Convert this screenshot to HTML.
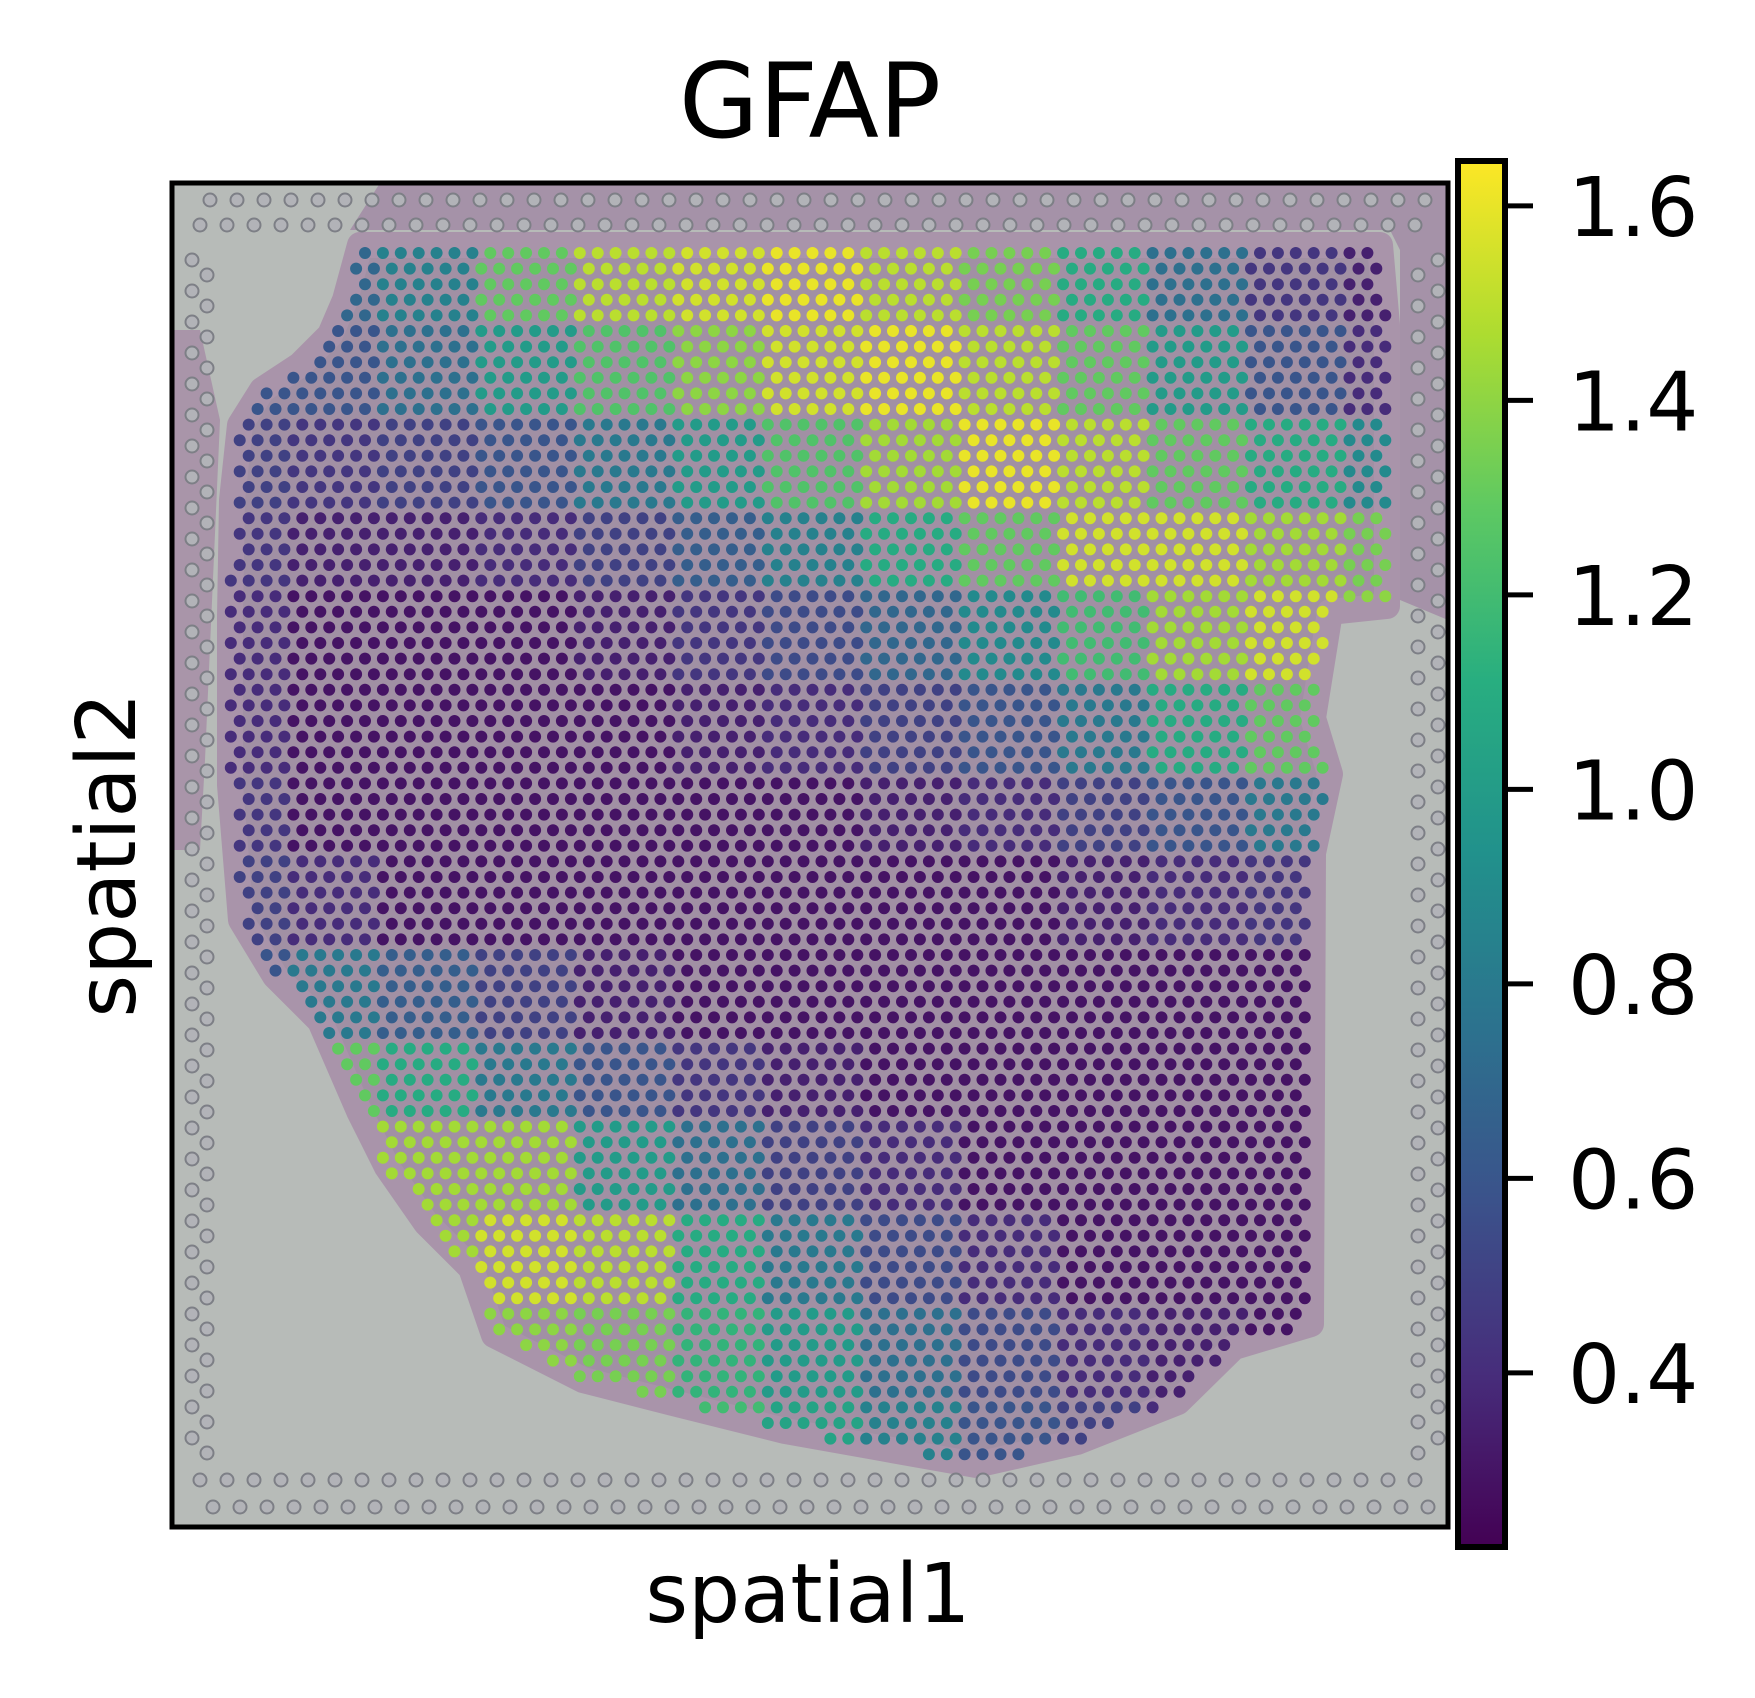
<!DOCTYPE html>
<html><head><meta charset="utf-8"><style>
html,body{margin:0;padding:0;background:#fff;}
svg{display:block;font-family:"DejaVu Sans","Liberation Sans",sans-serif;}
</style></head><body>
<svg id="fig" width="1755" height="1698" viewBox="0 0 1755 1698" xmlns="http://www.w3.org/2000/svg">
<defs>
<clipPath id="axclip"><rect x="172" y="183" width="1276" height="1344"/></clipPath>
<linearGradient id="cbgrad" x1="0" y1="1" x2="0" y2="0">
<stop offset="0" stop-color="#440154"/><stop offset="0.125" stop-color="#472d7b"/><stop offset="0.25" stop-color="#3b528b"/><stop offset="0.375" stop-color="#2c728e"/><stop offset="0.5" stop-color="#21918c"/><stop offset="0.625" stop-color="#28ae80"/><stop offset="0.75" stop-color="#5ec962"/><stop offset="0.875" stop-color="#addc30"/><stop offset="1" stop-color="#fde725"/>
</linearGradient>
</defs>
<text x="810" y="137" font-size="103" text-anchor="middle">GFAP</text>
<g clip-path="url(#axclip)">
<rect x="172" y="183" width="1276" height="1344" fill="#b7bbb8"/>
<path d="M380,183 L1448,183 L1448,620 L1400,600 L1400,250 L1390,230 L350,230 Z" fill="#a592a8"/>
<path d="M172,330 L200,330 L220,420 L205,760 L200,850 L172,850 Z" fill="#a995a9"/>
<g id="tissue"></g>
<g id="fid"></g>
<g id="spots"></g>
</g>
<rect x="172" y="183" width="1276" height="1344" fill="none" stroke="#000" stroke-width="5"/>
<text x="0" y="0" font-size="82" text-anchor="middle" transform="translate(135,855) rotate(-90)">spatial2</text>
<text x="808" y="1622" font-size="82" text-anchor="middle">spatial1</text>
<g id="cbar">
<rect x="1458" y="161" width="47" height="1386" fill="url(#cbgrad)" stroke="#000" stroke-width="6"/>
</g>
</svg>
<script>
// Colorbar ticks
const tickValues = [0.4, 0.6, 0.8, 1.0, 1.2, 1.4, 1.6];
const tickLabels = ["0.4", "0.6", "0.8", "1.0", "1.2", "1.4", "1.6"];
// Coarse expression field (GFAP): 14 rows x 13 cols
const gfapRow0 = [0.7,0.7,0.85,1.3,1.5,1.55,1.6,1.5,1.35,1.1,0.75,0.45,0.35];
const gfapRow1 = [0.6,0.6,0.75,1.0,1.25,1.4,1.55,1.6,1.5,1.3,1.0,0.6,0.4];
const gfapRow2 = [0.5,0.45,0.5,0.6,0.8,1.0,1.25,1.45,1.6,1.5,1.3,1.1,0.9];
const gfapRow3 = [0.45,0.35,0.35,0.4,0.5,0.65,0.85,1.1,1.3,1.55,1.55,1.45,1.35];
const gfapRow4 = [0.4,0.3,0.3,0.3,0.35,0.45,0.55,0.7,0.9,1.2,1.45,1.55,1.4];
const gfapRow5 = [0.4,0.3,0.3,0.3,0.3,0.35,0.4,0.5,0.6,0.8,1.1,1.3,1.2];
const gfapRow6 = [0.45,0.3,0.3,0.3,0.3,0.3,0.3,0.35,0.4,0.5,0.6,0.8,0.8];
const gfapRow7 = [0.5,0.4,0.3,0.3,0.3,0.3,0.3,0.3,0.3,0.35,0.4,0.45,0.45];
const gfapRow8 = [0.6,0.8,0.65,0.5,0.35,0.3,0.3,0.3,0.3,0.3,0.3,0.3,0.3];
const gfapRow9 = [1.1,1.3,1.1,0.8,0.6,0.45,0.35,0.3,0.3,0.3,0.3,0.3,0.3];
const gfapRow10 = [1.3,1.4,1.45,1.45,1.0,0.75,0.5,0.4,0.3,0.3,0.3,0.3,0.3];
const gfapRow11 = [1.4,1.4,1.45,1.55,1.5,1.1,0.8,0.55,0.4,0.3,0.3,0.3,0.3];
const gfapRow12 = [1.3,1.3,1.35,1.4,1.35,1.15,1.0,0.75,0.55,0.4,0.35,0.3,0.3];
const gfapRow13 = [1.25,1.25,1.25,1.25,1.25,1.2,1.05,0.85,0.6,0.5,0.4,0.35,0.3];
const gfapGrid = [gfapRow0,gfapRow1,gfapRow2,gfapRow3,gfapRow4,gfapRow5,gfapRow6,gfapRow7,gfapRow8,gfapRow9,gfapRow10,gfapRow11,gfapRow12,gfapRow13];

const NS = "http://www.w3.org/2000/svg";
const vmin = 0.224, vmax = 1.643;
const cbTop = 164, cbBot = 1544;
function cbY(v){ return cbBot - (v - vmin) / (vmax - vmin) * (cbBot - cbTop); }
const vir = [[68,1,84],[71,44,122],[59,81,139],[44,113,142],[33,144,141],[39,173,129],[92,200,99],[170,220,50],[253,231,37]];
function viridis(v){
  let t = Math.max(0, Math.min(1, (v - vmin) / (vmax - vmin))) * 8;
  let i = Math.min(7, Math.floor(t)), f = t - i;
  const a = vir[i], b = vir[i+1];
  return `rgb(${Math.round(a[0]+(b[0]-a[0])*f)},${Math.round(a[1]+(b[1]-a[1])*f)},${Math.round(a[2]+(b[2]-a[2])*f)})`;
}
// colorbar ticks
const cbar = document.getElementById('cbar');
tickValues.forEach((v, i) => {
  const y = cbY(v);
  const ln = document.createElementNS(NS, 'line');
  ln.setAttribute('x1', 1508); ln.setAttribute('x2', 1533);
  ln.setAttribute('y1', y); ln.setAttribute('y2', y);
  ln.setAttribute('stroke', '#000'); ln.setAttribute('stroke-width', 5);
  
  
  cbar.appendChild(ln);
  const tx = document.createElementNS(NS, 'text');
  tx.setAttribute('x', 1568); tx.setAttribute('y', y + 30);
  tx.setAttribute('font-size', 82);
  tx.textContent = tickLabels[i];
  
  
  cbar.appendChild(tx);
});
// tissue mask polygon (pixel outline of the spot-covered region)
const mask = [[360,245],[345,300],[330,335],[300,365],[262,390],[240,425],[232,500],[230,617],[230,785],[241,920],[275,976],[320,1021],[359,1111],[387,1167],[426,1223],[471,1268],[494,1335],[583,1380],[673,1403],[785,1431],[875,1447],[976,1465],[1077,1442],[1178,1402],[1234,1347],[1311,1324],[1313,853],[1330,774],[1313,718],[1330,612],[1387,606],[1387,325],[1380,245]];
const tissue = document.getElementById('tissue');
const tp = document.createElementNS(NS, 'polygon');
tp.setAttribute('points', mask.map(p => p.join(',')).join(' '));
tp.setAttribute('fill', '#a190a4'); tp.setAttribute('stroke', '#a994aa'); tp.setAttribute('stroke-width', 26); tp.setAttribute('stroke-linejoin', 'round');


tissue.appendChild(tp);
function inside(x, y){
  let c = false;
  for (let i = 0, j = mask.length - 1; i < mask.length; j = i++) {
    const [xi, yi] = mask[i], [xj, yj] = mask[j];
    if (((yi > y) !== (yj > y)) && (x < (xj - xi) * (y - yi) / (yj - yi) + xi)) c = !c;
  }
  return c;
}
function fieldValue(x, y){
  const dx = x / 1.122, dy = y / 1.122;
  let ci = Math.floor((dx - 169) / 85.7), ri = Math.floor((dy - 214) / 79);
  ci = Math.max(0, Math.min(12, ci)); ri = Math.max(0, Math.min(13, ri));
  return gfapGrid[ri][ci];
}
// fiducials
const fid = document.getElementById('fid');
function addFid(x, y){
  const c = document.createElementNS(NS, 'circle');
  c.setAttribute('cx', x); c.setAttribute('cy', y); c.setAttribute('r', 6.5);
  c.setAttribute('fill', '#b2b3b8'); c.setAttribute('stroke', '#7d7f86'); c.setAttribute('stroke-width', 2);
  
  
  fid.appendChild(c);
}
for (let x = 200; x < 1440; x += 27) { addFid(x, 1480); addFid(x + 13, 1507); addFid(x + 10, 200); addFid(x, 225); }
for (let y = 260; y < 1460; y += 31) { addFid(192, y); addFid(207, y + 15); addFid(1418, y + 15); addFid(1438, y); }
// spots on hex lattice
const spots = document.getElementById('spots');
for (let r = 0; r < 80; r++) {
  const y = 253 + r * 15.6;
  for (let c = -10; c < 62; c++) {
    const x = 365 + c * 17.9 + (r % 2) * 8.95;
    if (!inside(x, y)) continue;
    const v = fieldValue(x, y);
    const s = document.createElementNS(NS, 'circle');
    s.setAttribute('cx', x.toFixed(1)); s.setAttribute('cy', y.toFixed(1)); s.setAttribute('r', 6);
    s.setAttribute('fill', viridis(v));
    
    
    spots.appendChild(s);
  }
}
</script>
</body></html>
